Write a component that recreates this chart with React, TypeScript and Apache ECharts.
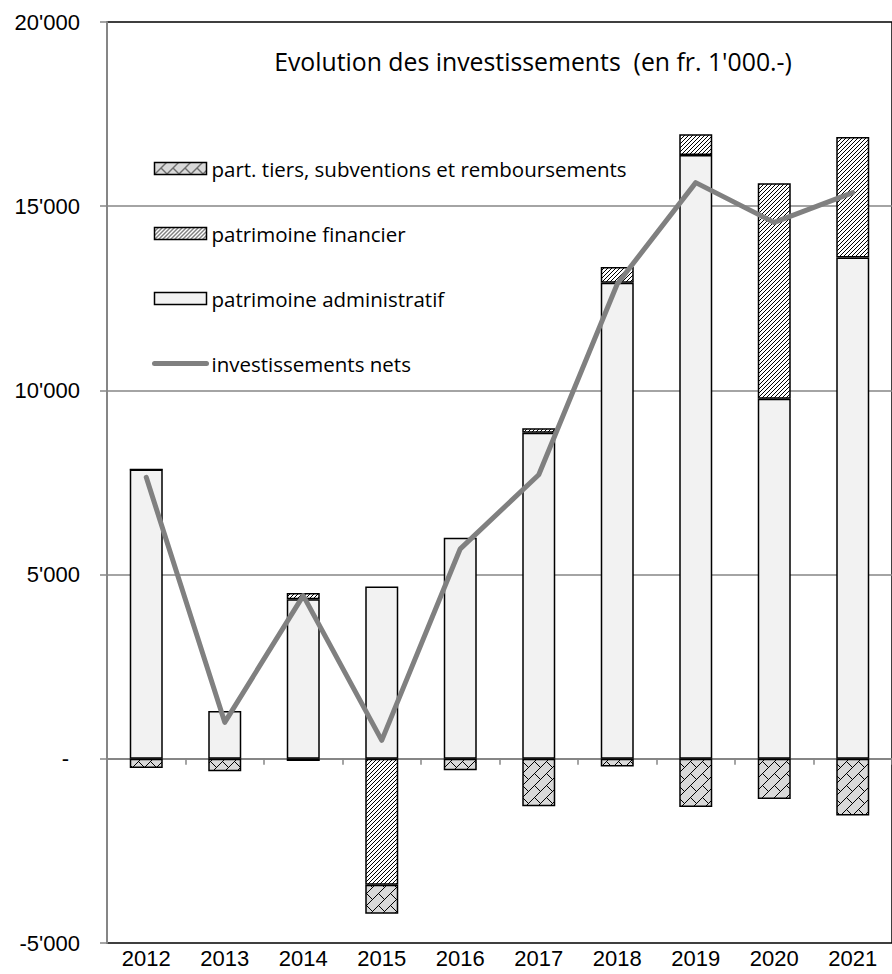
import React, { useEffect, useRef } from "react";
import * as echarts from "echarts";

const years = ["2012", "2013", "2014", "2015", "2016", "2017", "2018", "2019", "2020", "2021"];
const adminValues = [7850, 1300, 4330, 4680, 6000, 8850, 12920, 16390, 9770, 13610];
const financierValues = [0, null, 170, -3420, null, 120, 430, 560, 5850, 3270];
const tiersValues = [-250, -340, -60, -785, -310, -1290, -210, -1310, -1090, -1540];
const netValues = [7640, 990, 4430, 500, 5700, 7710, 12890, 15640, 14560, 15370];
const yTicks = { min: -5000, max: 20000, interval: 5000 };

const NAME_TIERS = "part. tiers, subventions et remboursements";
const NAME_FIN = "patrimoine financier";
const NAME_ADMIN = "patrimoine administratif";
const NAME_NET = "investissements nets";
const TITLE = "Evolution des investissements  (en fr. 1'000.-)";

function makePattern(size: number, bg: string, pixels: [number, number][]) {
  const c = document.createElement("canvas");
  c.width = size;
  c.height = size;
  const ctx = c.getContext("2d")!;
  ctx.fillStyle = bg;
  ctx.fillRect(0, 0, size, size);
  ctx.fillStyle = "#000";
  pixels.forEach(([x, y]) => ctx.fillRect(x, y, 1, 1));
  return { image: c, repeat: "repeat", imageWidth: size, imageHeight: size } as any;
}

function fmt(v: number) {
  if (v === 0) return "{z|-}";
  const s = String(Math.abs(v)).replace(/\B(?=(\d{3})+(?!\d))/g, "'");
  return (v < 0 ? "-" : "") + s;
}

export default function App() {
  const ref = useRef<HTMLDivElement>(null);
  useEffect(() => {
    if (!ref.current) return;
    // financier: upward diagonal stripes
    const finPx: [number, number][] = [];
    const fs = 4;
    for (let i = 0; i < fs; i++) finPx.push([i, fs - 1 - i]);
    const finPattern = makePattern(fs, "#ffffff", finPx);
    // tiers: diagonal brick
    const ts = 12;
    const tPx: [number, number][] = [];
    for (let i = 0; i < ts; i++) tPx.push([i, ts - 1 - i]);
    for (let k = 1; k < ts / 2; k++) tPx.push([ts / 2 + k, ts / 2 - 1 + k]);
    const tiersPattern = makePattern(ts, "#d9d9d9", tPx);

    const chart = echarts.init(ref.current, null, { renderer: "svg" });
    const labelFont = "'Liberation Sans', Arial, sans-serif";
    const textFont = "'Open Sans', sans-serif";
    const grey = "#868686";
    const barBorder = { borderColor: "#000", borderWidth: 1.5 };
    chart.setOption({
      animation: false,
      backgroundColor: "#fff",
      grid: {
        left: 107,
        top: 22,
        width: 800,
        height: 921,
        show: true,
        borderColor: "#000",
        borderWidth: 1.5,
        backgroundColor: "transparent",
      },
      graphic: [
        {
          type: "text",
          x: 533,
          y: 61,
          z: 10,
          style: {
            text: TITLE,
            fontFamily: textFont,
            fontSize: 24.8,
            fill: "#000",
            textAlign: "center",
            textVerticalAlign: "middle",
          },
        },
      ],
      legend: {
        orient: "vertical",
        left: 152,
        top: 158,
        padding: 0,
        itemWidth: 52,
        itemHeight: 12,
        itemGap: 44,
        selectedMode: false,
        textStyle: { fontFamily: textFont, fontSize: 20.5, color: "#000", lineHeight: 20 },
        data: [
          { name: NAME_TIERS, icon: "rect", itemStyle: { color: tiersPattern, ...barBorder } },
          { name: NAME_FIN, icon: "rect", itemStyle: { color: finPattern, ...barBorder } },
          { name: NAME_ADMIN, icon: "rect", itemStyle: { color: "#f2f2f2", ...barBorder } },
          {
            name: NAME_NET,
            itemStyle: { opacity: 0 },
            lineStyle: { color: "#808080", width: 5, cap: "round" },
          },
        ],
      },
      xAxis: [
        {
          type: "category",
          data: years,
          position: "bottom",
          axisLine: { onZero: true, lineStyle: { color: grey, width: 2 } },
          axisTick: { show: true, length: 6, lineStyle: { color: grey, width: 1.5 } },
          axisLabel: { show: false },
          splitLine: { show: false },
        },
        {
          type: "category",
          data: years,
          position: "bottom",
          axisLine: { show: false, onZero: false },
          axisTick: { show: false },
          axisLabel: { fontSize: 22, fontFamily: labelFont, color: "#000", margin: 4 },
          splitLine: { show: false },
        },
      ],
      yAxis: {
        type: "value",
        min: yTicks.min,
        max: yTicks.max,
        interval: yTicks.interval,
        axisLine: { show: true, lineStyle: { color: grey, width: 2 } },
        axisTick: { show: true, length: 7, lineStyle: { color: grey, width: 1.5 } },
        splitLine: { show: true, showMinLine: false, showMaxLine: false, lineStyle: { color: grey, width: 1.5 } },
        axisLabel: {
          formatter: fmt,
          margin: 27,
          fontSize: 22,
          fontFamily: labelFont,
          color: "#000",
          rich: { z: { padding: [0, 11, 0, 0], fontSize: 22, fontFamily: labelFont, color: "#000" } },
        },
      },
      series: [
        {
          name: NAME_ADMIN,
          type: "bar",
          stack: "inv",
          barWidth: 33,
          data: adminValues,
          itemStyle: { color: "#f2f2f2", ...barBorder },
        },
        {
          name: NAME_FIN,
          type: "bar",
          stack: "inv",
          barWidth: 33,
          data: financierValues,
          itemStyle: { color: finPattern, ...barBorder },
        },
        {
          name: NAME_TIERS,
          type: "bar",
          stack: "inv",
          barWidth: 33,
          data: tiersValues,
          itemStyle: { color: tiersPattern, ...barBorder },
        },
        {
          name: NAME_NET,
          type: "line",
          data: netValues,
          symbol: "none",
          z: 5,
          lineStyle: { color: "#808080", width: 5, join: "round", cap: "round" },
          itemStyle: { color: "#808080" },
        },
      ],
    });
    return () => chart.dispose();
  }, []);
  return <div ref={ref} style={{ position: "fixed", left: 0, top: 0, width: 892, height: 974 }} />;
}
